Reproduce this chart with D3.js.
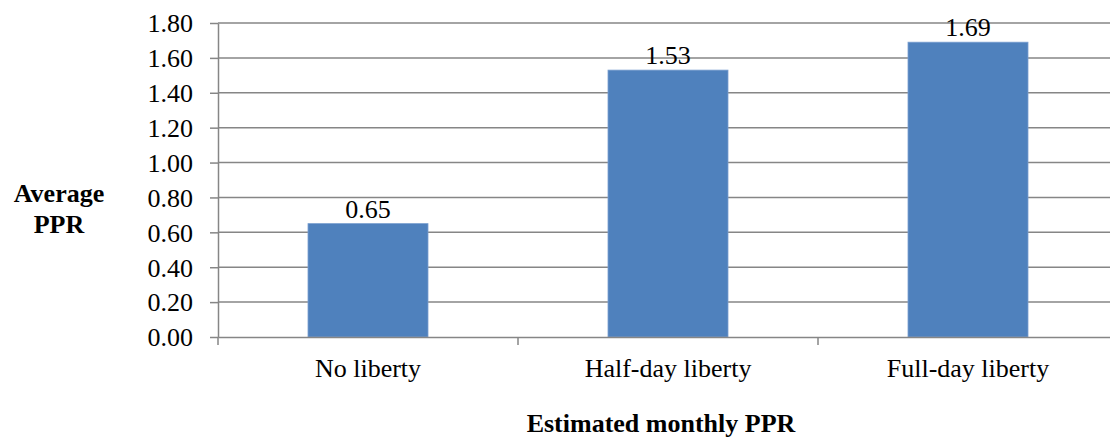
<!DOCTYPE html>
<html>
<head>
<meta charset="utf-8">
<script src="https://cdn.jsdelivr.net/npm/d3@7"></script>
<style>
  body { margin: 0; background: #fff; }
  svg, text { font-family: "Liberation Serif", "Times New Roman", serif; fill: #000; }
</style>
</head>
<body>
<script>
const categories = ["No liberty", "Half-day liberty", "Full-day liberty"];
const values = [0.65, 1.53, 1.69];
const yTicks = [0, 0.2, 0.4, 0.6, 0.8, 1.0, 1.2, 1.4, 1.6, 1.8];

const width = 1110, height = 437;
const plotLeft = 218, plotTop = 23, plotW = 900, plotH = 314;
const serif = "Liberation Serif, Times New Roman, serif";

const svg = d3.select("body").append("svg")
  .attr("width", width).attr("height", height);

const x = d3.scaleBand().domain(categories).range([plotLeft, plotLeft + plotW]).paddingInner(0).paddingOuter(0);
const y = d3.scaleLinear().domain([0, 1.8]).range([plotTop + plotH, plotTop]);

// gridlines
svg.selectAll(".grid").data(yTicks.slice(1))
  .enter().append("line")
  .attr("class", "grid")
  .attr("x1", plotLeft).attr("x2", plotLeft + plotW)
  .attr("y1", d => y(d)).attr("y2", d => y(d))
  .attr("stroke", "#868686").attr("stroke-width", 1.5);

// bars
const barW = 120;
svg.selectAll(".bar").data(values)
  .enter().append("rect")
  .attr("class", "bar")
  .attr("x", (d, i) => x(categories[i]) + x.bandwidth() / 2 - barW / 2)
  .attr("y", d => y(d))
  .attr("width", barW)
  .attr("height", d => y(0) - y(d))
  .attr("fill", "#4F81BD")
  .attr("stroke", "#7A9FD0").attr("stroke-width", 0.8);

// value labels
svg.selectAll(".val").data(values)
  .enter().append("text")
  .attr("class", "val")
  .attr("x", (d, i) => x(categories[i]) + x.bandwidth() / 2)
  .attr("y", d => y(d) - 6)
  .attr("text-anchor", "middle")
  .attr("font-family", serif)
  .attr("font-size", 26)
  .text(d => d.toFixed(2));

// y axis
const yAxis = d3.axisLeft(y).tickValues(yTicks).tickFormat(d3.format(".2f")).tickSize(8).tickSizeOuter(0);
const gy = svg.append("g").attr("transform", `translate(${plotLeft},0)`).call(yAxis)
  .attr("font-family", serif).attr("font-size", 26);
gy.select(".domain").attr("stroke", "#868686").attr("stroke-width", 1.5);
gy.selectAll(".tick line").attr("stroke", "#868686").attr("stroke-width", 1.5);
gy.selectAll(".tick text").attr("x", -25).attr("dy", "0.34em").attr("fill", "#000");

// x axis
const xAxis = d3.axisBottom(x).tickSize(0).tickSizeOuter(0);
const gx = svg.append("g").attr("transform", `translate(0,${plotTop + plotH})`).call(xAxis)
  .attr("font-family", serif).attr("font-size", 26);
gx.select(".domain").attr("stroke", "#868686").attr("stroke-width", 1.5);
gx.selectAll(".tick text").attr("y", 40).attr("dy", 0).attr("fill", "#000");
// category boundary ticks
svg.selectAll(".xtick").data(categories)
  .enter().append("line")
  .attr("class", "xtick")
  .attr("x1", d => x(d)).attr("x2", d => x(d))
  .attr("y1", plotTop + plotH).attr("y2", plotTop + plotH + 8)
  .attr("stroke", "#868686").attr("stroke-width", 1.5);

// axis titles
const yt = svg.append("text").attr("text-anchor", "middle").attr("font-family", serif)
  .attr("font-size", 26).attr("font-weight", "bold");
yt.append("tspan").attr("x", 59).attr("y", 202).text("Average");
yt.append("tspan").attr("x", 59).attr("y", 233).text("PPR");

svg.append("text").attr("x", 661).attr("y", 432).attr("text-anchor", "middle").attr("font-family", serif)
  .attr("font-size", 26).attr("font-weight", "bold").text("Estimated monthly PPR");
</script>
</body>
</html>
